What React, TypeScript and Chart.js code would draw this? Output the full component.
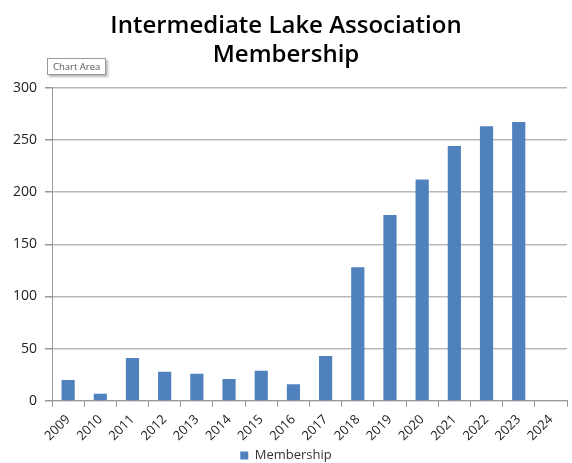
import React, { useEffect, useRef } from "react";
import { Chart, registerables } from "chart.js";

Chart.register(...registerables);

const years = ["2009","2010","2011","2012","2013","2014","2015","2016","2017","2018","2019","2020","2021","2022","2023","2024"];
const membership = [20, 7, 41, 28, 26, 21, 29, 16, 43, 128, 178, 212, 244, 263, 267, null];
const yTicks = [0, 50, 100, 150, 200, 250, 300];

export default function App() {
  const ref = useRef<HTMLCanvasElement>(null);
  useEffect(() => {
    if (!ref.current) return;
    const chart = new Chart(ref.current, {
      type: "bar",
      data: {
        labels: years,
        datasets: [
          {
            label: "Membership",
            data: membership as any,
            backgroundColor: "#4f81bd",
            categoryPercentage: 1,
            barPercentage: 0.41,
          },
        ],
      },
      options: {
        animation: false,
        responsive: false,
        layout: { padding: { left: 5, right: 5, top: 12, bottom: -9 } },
        plugins: {
          title: {
            display: true,
            text: ["Intermediate Lake Association", "Membership"],
            font: { family: "'Open Sans'", size: 24, weight: 600 },
            color: "#000",
            padding: { top: 0, bottom: 18 },
            lineHeight: 1.33,
          },
          legend: {
            position: "bottom",
            labels: {
              font: { family: "'Open Sans'", size: 13 },
              color: "#333",
              boxWidth: 8,
              boxHeight: 8,
              padding: 0,
            },
          },
          tooltip: { enabled: false },
        },
        scales: {
          x: {
            grid: { display: true, drawOnChartArea: false, color: "#999", tickLength: 6 },
            border: { color: "#999" },
            ticks: {
              minRotation: 45,
              maxRotation: 45,
              font: { family: "'Open Sans'", size: 13 },
              color: "#222",
              padding: 5,
            },
          },
          y: {
            min: 0,
            max: 300,
            afterBuildTicks: (axis: any) => {
              axis.ticks = yTicks.map((v) => ({ value: v }));
            },
            grid: { color: "#b8b8b8", lineWidth: 1.5, tickLength: 7, tickColor: "#999" },
            border: { color: "#999" },
            ticks: {
              font: { family: "'Open Sans'", size: 14 },
              color: "#222",
              padding: 8,
            },
          },
        },
      },
    });
    return () => chart.destroy();
  }, []);
  return (
    <div style={{ position: "absolute", left: 0, top: 0, width: 572, height: 463, background: "#fff" }}>
      <canvas ref={ref} width={572} height={463} style={{ width: 572, height: 463 }} />
      <div
        style={{
          position: "absolute",
          left: 47,
          top: 58,
          padding: "1px 5px",
          border: "1px solid #999",
          background: "#fff",
          boxShadow: "2px 2px 2px #bbb",
          fontFamily: "'Open Sans'",
          fontSize: 9.5,
          color: "#555",
        }}
      >
        Chart Area
      </div>
    </div>
  );
}
